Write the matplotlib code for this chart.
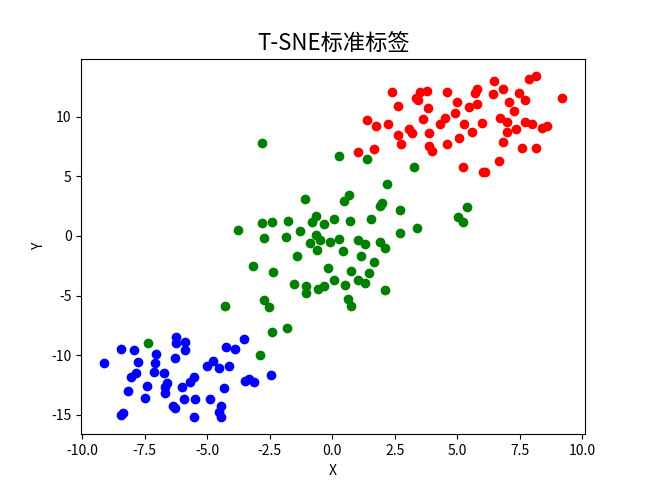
import numpy as np
import matplotlib
matplotlib.use("Agg")
import matplotlib.pyplot as plt

plt.rcParams["font.family"] = ["Noto Sans CJK SC", "DejaVu Sans"]
plt.rcParams["axes.unicode_minus"] = False

# 三个类别的 T-SNE 坐标
blue_x = [-9.13, -8.44, -7.92, -7.78, -7.04, -7.10, -7.14, -6.72, -7.85, -8.05,
          -8.19, -7.43, -7.48, -6.63, -6.68, -6.68, -8.37, -8.46, -6.25, -6.25,
          -5.88, -5.91, -6.28, -6.03, -5.69, -5.53, -5.95, -5.48, -6.36, -6.28,
          -5.54, -5.01, -4.79, -4.54, -4.15, -4.24, -3.91, -3.54, -4.89, -4.35,
          -4.44, -4.54, -4.47, -3.48, -3.33, -3.13, -2.46]
blue_y = [-10.68, -9.48, -9.56, -10.57, -9.90, -10.68, -11.44, -11.52, -11.47, -11.80,
          -12.98, -12.56, -13.56, -12.36, -12.69, -13.15, -14.87, -15.02, -8.50, -8.95,
          -8.87, -9.56, -10.26, -12.64, -12.22, -11.86, -13.65, -13.65, -14.26, -14.46,
          -15.21, -10.91, -10.49, -11.10, -10.91, -9.28, -9.48, -8.64, -13.70, -12.78,
          -14.26, -14.74, -15.16, -12.16, -12.00, -12.27, -11.69]

green_x = [-7.39, -4.28, -2.74, -2.54, -2.42, -1.80, -2.91,
           -2.80, 0.28, 1.40, 3.27, 2.20, 0.69, 0.46, -1.08, 2.01, 1.91, 2.71, 3.38,
           2.71, 1.55, 0.73, 0.07, -0.66, -0.82, -0.33, -1.76, -2.40, -2.82, -3.79,
           -2.74, -1.84, -1.31, -0.66, -0.50, -0.90, -0.08, 0.29, 1.05, 1.33, 1.91,
           2.12, -0.61, 0.44, 1.17, -1.40, 1.66, -3.19, -2.38, -0.17, 0.77, 1.47,
           0.08, 1.02, 1.33, 0.53, -0.33, -0.57, -1.04, -1.04, -1.55, 2.12, 0.65,
           0.77, 5.39, 5.05, 5.23]
green_y = [-8.95, -5.87, -5.37, -5.98, -8.03, -7.75, -9.98,
           7.78, 6.74, 6.46, 5.81, 4.36, 3.41, 2.94, 3.13, 2.79, 2.52, 2.16, 0.64,
           0.25, 1.45, 1.29, 1.45, 1.68, 1.20, 1.01, 1.29, 1.20, 1.12, 0.50,
           -0.17, -0.08, 0.42, 0.11, -0.34, -0.61, -0.53, -0.25, -0.34, -0.67, -0.48,
           -1.01, -1.17, -1.28, -1.65, -1.70, -2.16, -2.49, -3.02, -2.71, -2.91, -3.08,
           -3.69, -3.69, -3.94, -4.08, -4.17, -4.47, -4.19, -4.78, -4.03, -4.53, -5.26,
           -5.87, 2.41, 1.57, 1.20]

red_x = [2.40, 2.65, 1.40, 1.76, 2.24, 2.65, 2.74, 1.67, 1.02, 3.42,
         3.51, 3.80, 3.35, 3.83, 3.62, 3.07, 3.18, 3.87, 3.88, 3.99,
         4.59, 5.01, 4.92, 4.53, 4.31, 5.29, 5.59, 5.09, 4.61, 5.49,
         5.81, 5.72, 5.81, 5.98, 6.48, 6.84, 6.43, 7.09, 7.27, 6.72,
         6.99, 7.36, 7.01, 6.83, 6.69, 5.23, 6.02, 6.13, 7.49, 7.73,
         7.86, 8.16, 7.72, 7.99, 8.39, 8.59, 7.60, 8.14, 9.20]
red_y = [12.11, 10.91, 9.73, 9.23, 9.37, 8.47, 7.69, 7.33, 7.05, 11.41,
         12.11, 12.19, 11.55, 10.71, 9.82, 8.98, 8.67, 8.67, 7.58, 7.13,
         12.06, 11.27, 10.29, 9.87, 9.37, 9.37, 8.75, 8.20, 7.69, 10.85,
         11.07, 12.02, 12.31, 9.45, 13.03, 12.31, 11.91, 11.27, 10.49, 9.92,
         9.59, 8.98, 8.75, 7.91, 6.29, 5.79, 5.39, 5.39, 11.97, 11.41,
         13.15, 13.45, 9.54, 9.37, 9.04, 9.23, 7.36, 7.36, 11.55]

fig = plt.figure(figsize=(6.5, 4.88), dpi=100)

plt.scatter(blue_x, blue_y, c="blue")
plt.scatter(green_x, green_y, c="green")
plt.scatter(red_x, red_y, c="red")

plt.title("T-SNE标准标签", fontsize=16)
plt.xlabel("X")
plt.ylabel("Y")

plt.savefig("out.png", dpi=100)
plt.close()
